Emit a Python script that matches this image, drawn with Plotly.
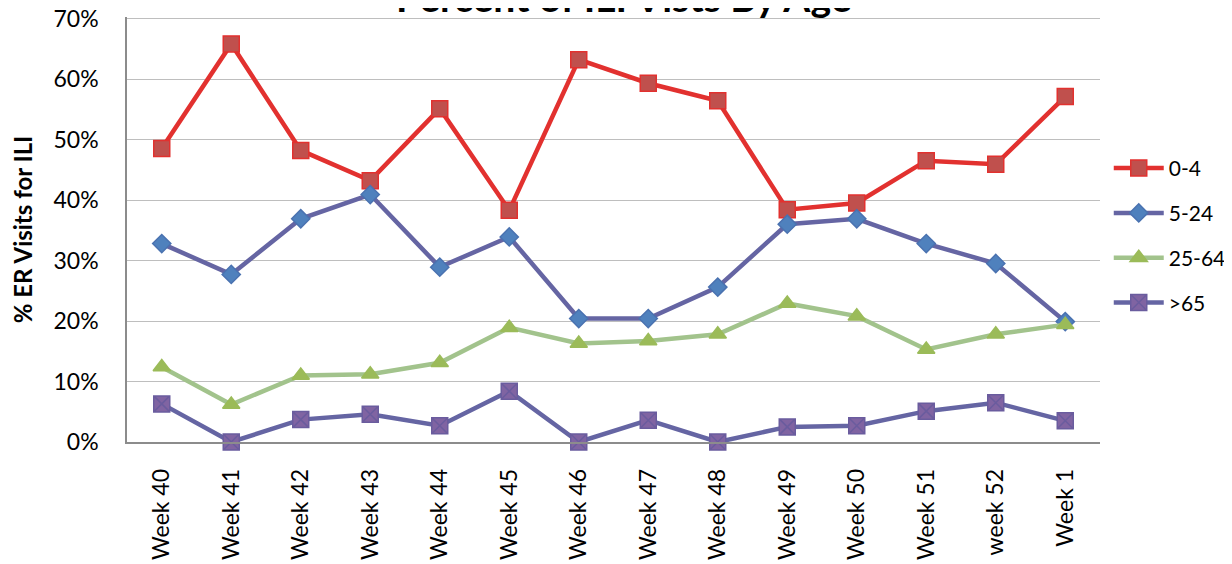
import plotly.graph_objects as go

weeks = ["Week 40", "Week 41", "Week 42", "Week 43", "Week 44", "Week 45", "Week 46",
         "Week 47", "Week 48", "Week 49", "Week 50", "Week 51", "week 52", "Week 1"]

age_0_4 = [48.5, 65.8, 48.2, 43.2, 55.1, 38.3, 63.2, 59.3, 56.4, 38.4, 39.5, 46.5, 45.9, 57.1]
age_5_24 = [32.8, 27.7, 36.9, 40.9, 28.9, 33.9, 20.4, 20.4, 25.6, 36.0, 36.9, 32.8, 29.5, 19.9]
age_25_64 = [12.4, 6.2, 11.0, 11.2, 13.1, 18.9, 16.3, 16.7, 17.8, 22.9, 20.8, 15.3, 17.8, 19.4]
age_65 = [6.3, 0.0, 3.7, 4.6, 2.7, 8.4, 0.0, 3.6, 0.0, 2.5, 2.7, 5.1, 6.5, 3.5]

yticks = [0, 10, 20, 30, 40, 50, 60, 70]
ytick_labels = ["0%", "10%", "20%", "30%", "40%", "50%", "60%", "70%"]

FONT = "Lato"

series = [
    ("0-4", age_0_4, "#E2312F", "square", "#C0504D", "#E2312F", 16),
    ("5-24", age_5_24, "#6565A3", "diamond", "#4F81BD", "#4A72B0", 14),
    ("25-64", age_25_64, "#A2C38C", "triangle-up", "#9BBB59", "#9BBB59", 15),
    (">65", age_65, "#6565A3", "square-x", "#8064A2", "#6A5C9E", 16),
]

fig = go.Figure()
for i, (name, vals, lc, sym, mfill, mline, msize) in enumerate(series):
    fig.add_trace(go.Scatter(
        x=weeks, y=vals, name=name, mode="lines+markers",
        legendgroup=f"g{i}",
        line=dict(color=lc, width=4.5),
        marker=dict(symbol=sym, size=msize, color=mfill,
                    line=dict(color=mline, width=1.5)),
        cliponaxis=False,
    ))

fig.add_annotation(
    text="<b>Percent of ILI Vists By Age</b>",
    xref="paper", yref="paper", x=0.511, y=1.0,
    xanchor="center", yanchor="middle", showarrow=False, yshift=20,
    font=dict(family=FONT, size=39, color="#000000"),
)

fig.update_layout(
    width=1224, height=556,
    margin=dict(l=119, r=132, t=9, b=122, autoexpand=False),
    paper_bgcolor="white", plot_bgcolor="white",
    font=dict(family=FONT, color="#000000"),
    showlegend=True,
    legend=dict(
        x=1.009, xanchor="left", y=0.486, yanchor="middle",
        font=dict(family=FONT, size=21, color="#000000"),
        tracegroupgap=14.5, itemwidth=50, bgcolor="rgba(0,0,0,0)",
    ),
    xaxis=dict(
        type="category", categoryorder="array", categoryarray=weeks,
        tickangle=-90, tickfont=dict(family=FONT, size=23, color="#000000"),
        showgrid=False, showline=True, linecolor="#8C8C8C", linewidth=1.5,
        ticks="", ticklabelstandoff=16, range=[-0.5, 13.5], automargin=False,
        ticklabeloverflow="allow",
    ),
    yaxis=dict(
        range=[0, 70.25], tickvals=yticks, ticktext=ytick_labels,
        tickfont=dict(family=FONT, size=23, color="#000000"),
        showgrid=True, gridcolor="#BEBEBE", gridwidth=1.2,
        showline=True, linecolor="#8C8C8C", linewidth=1.5,
        ticks="", ticklabelstandoff=22, zeroline=False, automargin=False,
        ticklabeloverflow="allow",
        title=dict(text="<b>% ER Visits for ILI</b>",
                   font=dict(family=FONT, size=24, color="#000000"),
                   standoff=18),
    ),
)

fig.write_html("out.html")
